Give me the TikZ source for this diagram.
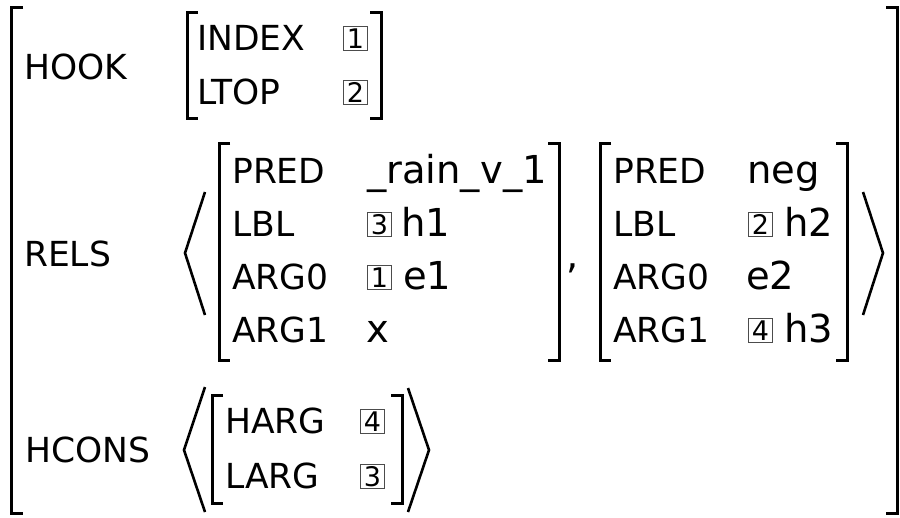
\documentclass[tikz,border=0pt]{standalone}
\usepackage{fontspec}
\setmainfont{DejaVu Sans}
\begin{document}
\begin{tikzpicture}[x=1pt,y=-1pt,
  lab/.style={anchor=base west, inner sep=0pt, font=\fontsize{34.5}{40}\selectfont},
  val/.style={anchor=base west, inner sep=0pt, font=\fontsize{38.5}{46}\selectfont},
  tag/.style={anchor=south west, draw=black!70, line width=0.9pt, inner sep=0pt,
              minimum width=24pt, minimum height=24pt, font=\fontsize{27}{30}\selectfont},
  brk/.style={line width=3pt, line join=miter},
  ang/.style={line width=2.6pt, line join=miter}]
\useasboundingbox (0,0) rectangle (900,517);
% outer brackets
\draw[brk] (23,7) -- (11,7) -- (11,513) -- (23,513);
\draw[brk] (886,7) -- (897,7) -- (897,513) -- (886,513);
% HOOK
\node[lab] (hook) at (24.5,79) {HOOK};
\draw[brk] (198,12) -- (187,12) -- (187,118) -- (198,118);
\draw[brk] (370,12) -- (381,12) -- (381,118) -- (370,118);
\node[lab] (index) at (197,50) {INDEX};
\node[tag] (t1a) at (343,51) {1};
\node[lab] (ltop) at (197,104) {LTOP};
\node[tag] (t2a) at (343,105) {2};
% RELS
\node[lab] (rels) at (24,266) {RELS};
\draw[ang] (205,192) -- (185,253) -- (205,315);
\draw[ang] (863,192) -- (883,253) -- (863,315);
\draw[brk] (230,143) -- (219,143) -- (219,360) -- (230,360);
\draw[brk] (548,143) -- (559,143) -- (559,360) -- (548,360);
\node[lab] (pred1) at (232,183) {PRED};
\node[val] (rain) at (367,183) {\_rain\_v\_1};
\node[lab] (lbl1) at (232,236) {LBL};
\node[tag] (t3a) at (367,237) {3};
\node[val] (h1) at (401,236) {h1};
\node[lab] (argz1) at (232,289) {ARG0};
\node[tag] (t1b) at (367,290) {1};
\node[val] (e1) at (403,289) {e1};
\node[lab] (argo1) at (232,342) {ARG1};
\node[val] (x) at (366,342) {x};
\node[val] (comma) at (566,268) {,};
\draw[brk] (611,143) -- (600,143) -- (600,360) -- (611,360);
\draw[brk] (836,143) -- (847,143) -- (847,360) -- (836,360);
\node[lab] (pred2) at (613,183) {PRED};
\node[val] (neg) at (747,183) {neg};
\node[lab] (lbl2) at (613,236) {LBL};
\node[tag] (t2b) at (748,237) {2};
\node[val] (h2) at (784,236) {h2};
\node[lab] (argz2) at (613,289) {ARG0};
\node[val] (e2) at (746,289) {e2};
\node[lab] (argo2) at (613,342) {ARG1};
\node[tag] (t4a) at (748,343) {4};
\node[val] (h3) at (784,342) {h3};
% HCONS
\node[lab] (hcons) at (25,462) {HCONS};
\draw[ang] (205,387) -- (184,450) -- (205,512);
\draw[ang] (408,388) -- (429,450) -- (408,512);
\draw[brk] (223,395) -- (212,395) -- (212,503) -- (223,503);
\draw[brk] (391,395) -- (402,395) -- (402,503) -- (391,503);
\node[lab] (harg) at (225,433) {HARG};
\node[tag] (t4b) at (360,434) {4};
\node[lab] (larg) at (225,488) {LARG};
\node[tag] (t3b) at (360,489) {3};
\end{tikzpicture}
\end{document}
